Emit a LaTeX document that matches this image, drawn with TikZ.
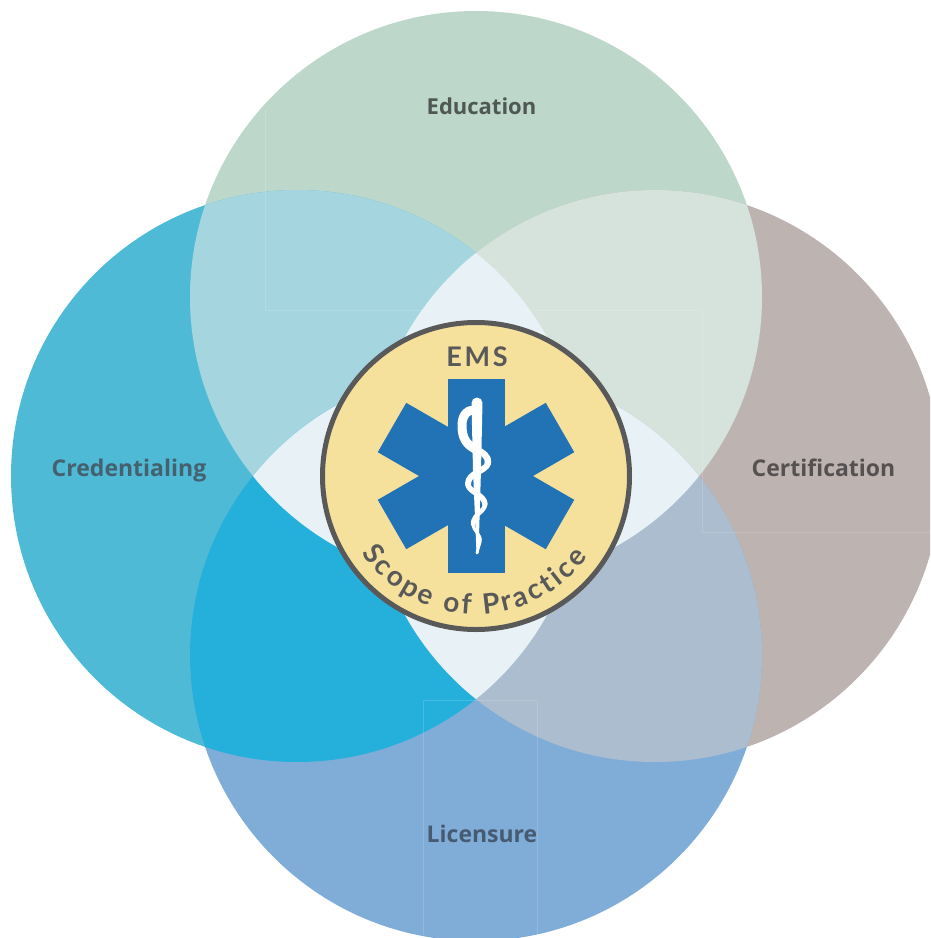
\documentclass[tikz,border=0pt]{standalone}
\usepackage{fontspec}
\setmainfont{Open Sans}
\newfontfamily\badgefont{Lato}
\newfontfamily\emsfont[LetterSpace=10]{Lato}
\usetikzlibrary{decorations.text}
\definecolor{cEdu}{HTML}{BDD8CA}
\definecolor{cCred}{HTML}{4FBAD6}
\definecolor{cCert}{HTML}{BDB4B2}
\definecolor{cLic}{HTML}{80ADD8}
\definecolor{cEduCred}{HTML}{A5D6E0}
\definecolor{cEduCert}{HTML}{D6E2DC}
\definecolor{cCredLic}{HTML}{25B0DC}
\definecolor{cCertLic}{HTML}{ABBDCE}
\definecolor{cCentre}{HTML}{E8F2F6}
\definecolor{cBadge}{HTML}{F5E09C}
\definecolor{cRim}{HTML}{595959}
\definecolor{cStar}{HTML}{2272B6}
\definecolor{cInkEdu}{HTML}{4F5854}
\definecolor{cInkCred}{HTML}{45606E}
\definecolor{cInkCert}{HTML}{555150}
\definecolor{cInkLic}{HTML}{465A72}
\tikzset{
  circlelabel/.style={font=\bfseries\fontsize{23}{25}\selectfont,inner sep=0pt,anchor=base},
  seam/.style={white,opacity=.15,line width=.8pt},
  snake/.style={white,line cap=round,line join=round},
  starbar/.style={fill=cStar,draw=none}
}
\def\circEdu{(476,-297) circle[radius=286]}
\def\circCred{(297,-476) circle[radius=286]}
\def\circCert{(655,-476) circle[radius=286]}
\def\circLic{(476,-655) circle[radius=286]}
\begin{document}
\begin{tikzpicture}[x=1pt,y=1pt]
\useasboundingbox (0,0) rectangle (930,-938);
\begin{scope}
\clip (0,0) rectangle (930,-938);
\fill[cEdu] \circEdu;
\fill[cCred] \circCred;
\fill[cCert] \circCert;
\fill[cLic] \circLic;
\begin{scope}\clip \circEdu; \fill[cEduCred] \circCred; \end{scope}
\begin{scope}\clip \circEdu; \fill[cEduCert] \circCert; \end{scope}
\begin{scope}\clip \circLic; \fill[cCredLic] \circCred; \end{scope}
\begin{scope}\clip \circLic; \fill[cCertLic] \circCert; \end{scope}
\begin{scope}\clip \circCred; \fill[cCentre] \circCert; \end{scope}
\begin{scope}\clip \circEdu; \fill[cCentre] \circLic; \end{scope}
\draw[seam] (265,-110) -- (265,-310) -- (702,-310) -- (702,-532) -- (930,-532);
\draw[seam] (423,-935) -- (423,-700) -- (537,-700) -- (537,-935);
\end{scope}
% badge
\fill[cBadge] (476,-476) circle[radius=154];
\draw[cRim,line width=5pt] (476,-476) circle[radius=153.5];
% star of life
\foreach \a in {0,60,120}{
  \fill[starbar,rotate around={\a:(476,-476)}] (447.5,-379) rectangle (504.5,-573);
}
% rod
\fill[white] (471.5,-403) arc[start angle=180,end angle=0,radius=5.5] -- (481,-470) -- (478.5,-553) -- (476.5,-553) -- (473,-470) -- cycle;
% serpent
\draw[snake,line width=9pt] (477,-411) .. controls (469,-408) and (462,-414) .. (462,-425)
  .. controls (462,-438) and (466,-444) .. (475,-449);
\draw[snake,line width=6.5pt] (475,-449) .. controls (483,-452) and (489,-457) .. (488,-463);
\draw[snake,line width=6pt] (488,-463) .. controls (486,-472) and (468,-472) .. (468,-484);
\draw[snake,line width=5.5pt] (468,-484) .. controls (468,-492) and (484,-494) .. (485,-504);
\draw[snake,line width=4.5pt] (485,-504) .. controls (485,-512) and (473,-514) .. (473,-524);
\draw[snake,line width=3pt] (473,-524) .. controls (473,-532) and (482,-534) .. (480,-542)
  .. controls (479,-546) and (478,-548) .. (477,-553);
% badge text
\node[inner sep=0pt,anchor=base,text=cRim] (ems) at (477,-366) {\emsfont\bfseries\fontsize{27}{29}\selectfont EMS};
\path[decorate,decoration={text along path,text align=fit to path,
  text={|\badgefont\bfseries\fontsize{28}{30}\selectfont\color{cRim}|Scope of Practice}}]
  (476,-476) ++(214:138) arc[start angle=214,end angle=324,radius=138];
% labels
\node[circlelabel,font=\bfseries\fontsize{22}{24}\selectfont,text=cInkEdu] (education) at (481.5,-114) {Education};
\node[circlelabel,text=cInkCred] (credentialing) at (129,-476) {Credentialing};
\node[circlelabel,text=cInkCert] (certification) at (823.5,-476) {Certification};
\node[circlelabel,text=cInkLic] (licensure) at (482,-842) {Licensure};
\end{tikzpicture}
\end{document}
